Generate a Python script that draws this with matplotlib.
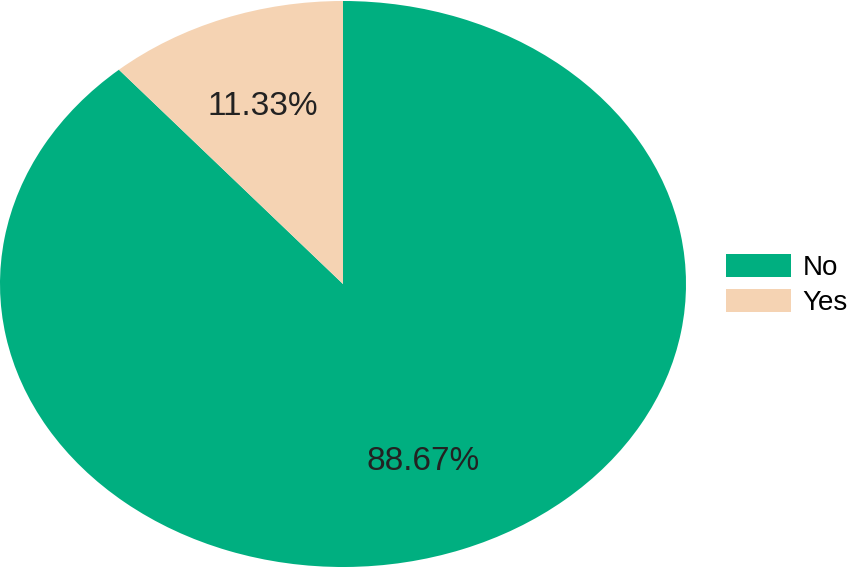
import matplotlib.pyplot as plt

labels = ['No', 'Yes']
shares = [88.67, 11.33]
colors = ['#00AF80', '#F5D3B3']

plt.rcParams['font.family'] = ['Liberation Sans', 'DejaVu Sans']

fig = plt.figure(figsize=(8.54, 5.67), dpi=100)
# stretched pie: axes spans an ellipse wider than tall
ax = fig.add_axes([0.0, 0.0, 686 / 854, 566 / 567])
wedges, texts, autotexts = ax.pie(shares, colors=colors, startangle=90, counterclock=False,
                                  autopct='%1.2f%%', pctdistance=0.67,
                                  wedgeprops=dict(linewidth=0))
for t in autotexts:
    t.set_fontsize(24)
    t.set_color('#222222')
ax.set_aspect('auto')
ax.set_xlim(-1.0, 1.0)
ax.set_ylim(-1.0, 1.0)

fig.legend(wedges, labels, loc='center left', bbox_to_anchor=(726 / 854, 1 - 285 / 567),
           frameon=False, fontsize=20, handlelength=2.35, handleheight=0.9,
           handletextpad=0.4, labelspacing=0.3, borderpad=0, borderaxespad=0)

plt.savefig('out.png', dpi=100)
